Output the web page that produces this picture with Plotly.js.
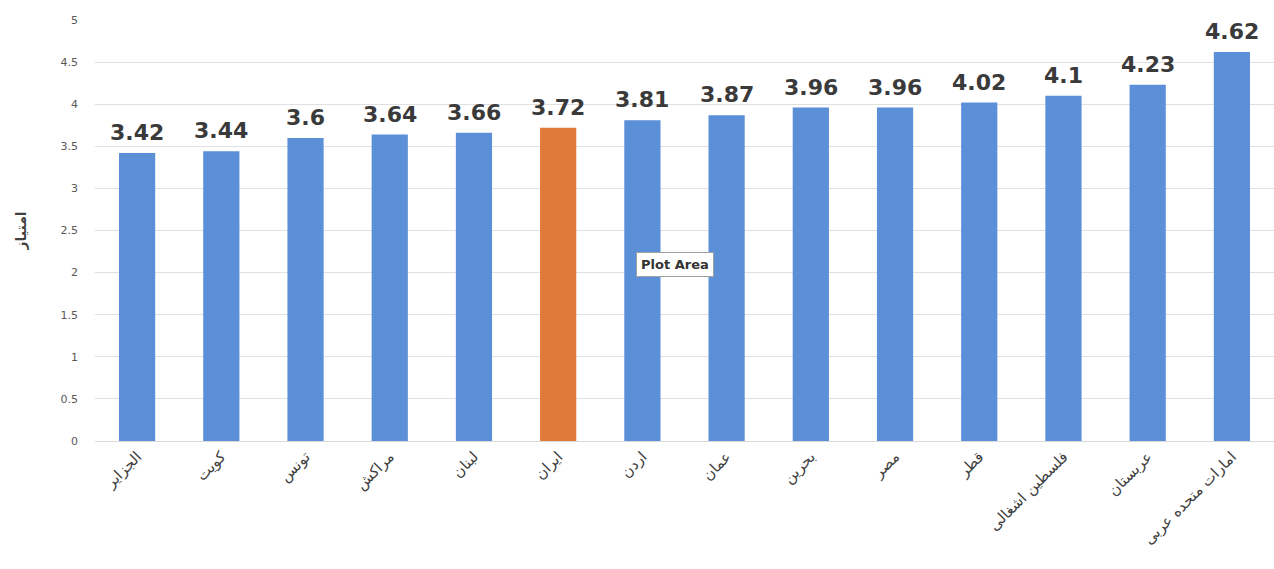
<!DOCTYPE html>
<html>
<head>
<meta charset="utf-8">
<script src="https://cdn.plot.ly/plotly-3.0.1.min.js"></script>
<style>html,body{margin:0;padding:0;background:#fff;}#chart{width:1274px;height:569px;}</style>
</head>
<body>
<div id="chart"></div>
<script>
const countries = ["الجزایر","کویت","تونس","مراکش","لبنان","ایران","اردن","عمان","بحرین","مصر","قطر","فلسطین اشغالی","عربستان","امارات متحده عربی"];
const scores = [3.42, 3.44, 3.6, 3.64, 3.66, 3.72, 3.81, 3.87, 3.96, 3.96, 4.02, 4.1, 4.23, 4.62];
const highlight = "ایران";
const yTicks = [0, 0.5, 1, 1.5, 2, 2.5, 3, 3.5, 4, 4.5, 5];

const colors = countries.map(c => c === highlight ? "#e07a38" : "#5b8fd7");

const trace = {
  type: "bar",
  x: countries,
  y: scores,
  marker: {color: colors, line: {width: 0}},
  hoverinfo: "x+y"
};

const valueLabels = countries.map((c, i) => ({
  x: c, y: scores[i], xref: "x", yref: "y",
  text: "<b>" + scores[i] + "</b>",
  showarrow: false, yanchor: "bottom", yshift: 6,
  font: {family: "DejaVu Sans", size: 22, color: "#3a3a3a"}
}));

const layout = {
  width: 1274, height: 569,
  margin: {l: 95, r: 0, t: 20, b: 128},
  paper_bgcolor: "#fff", plot_bgcolor: "#fff",
  bargap: 0.57,
  showlegend: false,
  font: {family: "DejaVu Sans", color: "#595959"},
  xaxis: {
    type: "category",
    tickangle: -45,
    tickfont: {family: "DejaVu Sans", size: 15, color: "#404040"},
    showgrid: false,
    showline: true, linecolor: "#d9d9d9", linewidth: 1,
    ticks: "", zeroline: false
  },
  yaxis: {
    range: [0, 5],
    tickvals: yTicks,
    ticktext: yTicks.map(v => String(v)),
    tickfont: {family: "DejaVu Sans", size: 11, color: "#595959"},
    ticklabelstandoff: 16,
    showgrid: true, gridcolor: "#e0e0e0", gridwidth: 1,
    zeroline: false, showline: false, ticks: "",
    title: {text: "<b>امتیاز</b>", font: {family: "DejaVu Sans", size: 14, color: "#404040"}, standoff: 30}
  },
  annotations: valueLabels.concat([{
    xref: "paper", yref: "paper", x: 0.492, y: 0.42,
    text: "<b>Plot Area</b>", showarrow: false,
    font: {family: "DejaVu Sans", size: 13, color: "#333"},
    bgcolor: "#ffffff", bordercolor: "#a0a0a0", borderwidth: 1, borderpad: 4
  }])
};

Plotly.newPlot("chart", [trace], layout, {displayModeBar: false, staticPlot: true});
</script>
</body>
</html>
